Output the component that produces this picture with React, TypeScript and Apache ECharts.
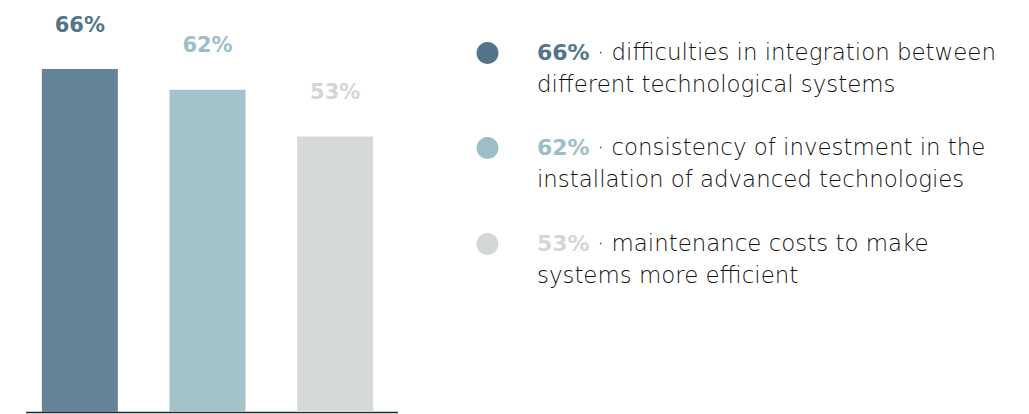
import React, { useEffect, useRef } from "react";
import * as echarts from "echarts";

const categories = ["integration", "investment", "maintenance"];
const values = [66, 62, 53];
const barColors = ["#648396", "#a3c2ca", "#d5d9d8"];
const labelColors = ["#52758a", "#9cbfc7", "#d3d7d6"];
const descLine1 = [
  " · difficulties in integration between",
  " · consistency of investment in the",
  " · maintenance costs to make",
];
const descLine2 = [
  "different technological systems",
  "installation of advanced technologies",
  "systems more efficient",
];

export default function App() {
  const ref = useRef<HTMLDivElement>(null);
  useEffect(() => {
    document.body.style.margin = "0";
    const chart = echarts.init(ref.current!, null, { renderer: "svg" });
    const legendTop = [36, 131, 227];
    const graphics: any[] = [
      {
        type: "line",
        shape: { x1: 26, y1: 412.5, x2: 398, y2: 412.5 },
        style: { stroke: "#1f2a2e", lineWidth: 1.5 },
      },
    ];
    values.forEach((v, i) => {
      graphics.push({
        type: "circle",
        shape: { cx: 487.5, cy: legendTop[i] + 17, r: 11 },
        style: { fill: labelColors[i] },
      });
      graphics.push({
        type: "text",
        x: 537,
        y: legendTop[i],
        style: {
          text: `{b|${v}%}{n|${descLine1[i]}}\n{n|${descLine2[i]}}`,
          verticalAlign: "top",
          rich: {
            b: {
              fontFamily: "DejaVu Sans",
              fontWeight: 700,
              fontSize: 22,
              fill: labelColors[i],
              lineHeight: 32,
            },
            n: {
              fontFamily: "DejaVu Sans",
              fontWeight: 200,
              fontSize: 22.9,
              fill: "#111111",
              lineHeight: 32,
            },
          },
        },
      });
    });
    chart.setOption({
      animation: false,
      grid: { left: 16, top: 69, width: 383, height: 343 },
      xAxis: {
        type: "category",
        data: categories,
        axisLine: { show: false },
        axisTick: { show: false },
        axisLabel: { show: false },
      },
      yAxis: {
        type: "value",
        min: 0,
        max: 66,
        show: false,
        splitLine: { show: false },
      },
      series: [
        {
          type: "bar",
          barWidth: 76,
          data: values.map((v, i) => ({
            value: v,
            itemStyle: { color: barColors[i] },
            label: { color: labelColors[i] },
          })),
          label: {
            show: true,
            position: "top",
            distance: 34,
            formatter: "{c}%",
            fontFamily: "DejaVu Sans",
            fontWeight: 700,
            fontSize: 21,
          },
        },
      ],
      graphic: graphics,
    });
    return () => chart.dispose();
  }, []);
  return <div ref={ref} style={{ width: 1029, height: 414 }} />;
}
